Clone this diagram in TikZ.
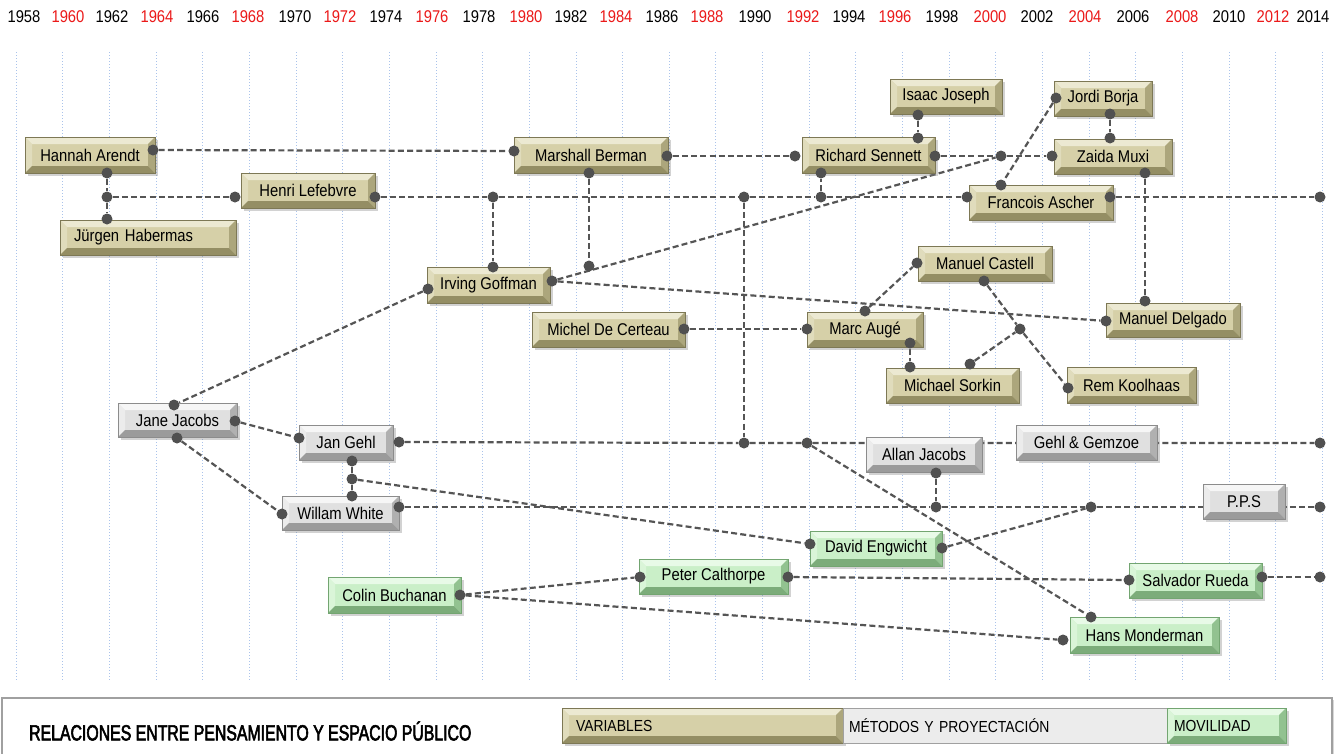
\documentclass[tikz,border=0pt]{standalone}
\usepackage{fontspec}
\setmainfont{Liberation Sans}[FakeStretch=0.87]
\newfontfamily\titlefont{Liberation Sans}[FakeStretch=0.72, FakeBold=2.5]
\usetikzlibrary{shadows}
\pgfdeclarelayer{gridl}\pgfdeclarelayer{linel}\pgfdeclarelayer{dotl}
\pgfsetlayers{gridl,linel,main,dotl}
\definecolor{varface}{RGB}{214,208,168}
\definecolor{vartop}{RGB}{236,233,210}
\definecolor{varleft}{RGB}{224,220,188}
\definecolor{varright}{RGB}{172,166,124}
\definecolor{varbot}{RGB}{148,142,100}
\definecolor{varborder}{RGB}{125,120,85}
\definecolor{metface}{RGB}{224,224,224}
\definecolor{mettop}{RGB}{246,246,246}
\definecolor{metleft}{RGB}{236,236,236}
\definecolor{metright}{RGB}{176,176,176}
\definecolor{metbot}{RGB}{155,155,155}
\definecolor{metborder}{RGB}{140,140,140}
\definecolor{movface}{RGB}{202,239,200}
\definecolor{movtop}{RGB}{232,250,231}
\definecolor{movleft}{RGB}{218,245,216}
\definecolor{movright}{RGB}{146,194,144}
\definecolor{movbot}{RGB}{124,172,122}
\definecolor{movborder}{RGB}{115,165,113}
\definecolor{dotc}{RGB}{80,80,80}
\definecolor{linec}{RGB}{85,85,85}
\definecolor{gridc}{RGB}{170,195,235}
\definecolor{yred}{RGB}{235,25,25}
\definecolor{legborder}{RGB}{160,160,160}
\definecolor{legmet}{RGB}{236,236,236}
\tikzset{
  bevel/.style n args={4}{path picture={
    \path (path picture bounding box.north west) coordinate (pNW)
          (path picture bounding box.north east) coordinate (pNE)
          (path picture bounding box.south west) coordinate (pSW)
          (path picture bounding box.south east) coordinate (pSE);
    \fill[#1] (pNW) -- (pNE) -- ([shift={(-7pt,-7pt)}]pNE) -- ([shift={(7pt,-7pt)}]pNW) -- cycle;
    \fill[#2] (pNW) -- ([shift={(7pt,-7pt)}]pNW) -- ([shift={(7pt,7pt)}]pSW) -- (pSW) -- cycle;
    \fill[#3] (pNE) -- (pSE) -- ([shift={(-7pt,7pt)}]pSE) -- ([shift={(-7pt,-7pt)}]pNE) -- cycle;
    \fill[#4] (pSW) -- ([shift={(7pt,7pt)}]pSW) -- ([shift={(-7pt,7pt)}]pSE) -- (pSE) -- cycle;
  }},
  boxbase/.style={rectangle, inner sep=0pt, line width=0.6pt,
    font=\fontsize{17}{20}\selectfont, text=black,
    drop shadow={opacity=0.35, shadow xshift=3pt, shadow yshift=-3pt}},
  var/.style={boxbase, fill=varface, draw=varborder, bevel={vartop}{varleft}{varright}{varbot}},
  met/.style={boxbase, fill=metface, draw=metborder, bevel={mettop}{metleft}{metright}{metbot}},
  mov/.style={boxbase, fill=movface, draw=movborder, bevel={movtop}{movleft}{movright}{movbot}},
  dot/.style={circle, fill=dotc, inner sep=0pt, minimum size=11pt},
  conn/.style={draw=linec, line width=2.2pt, dash pattern=on 6pt off 3.2pt},
  yearlbl/.style={font=\fontsize{17}{20}\selectfont, inner sep=0pt}
}
\begin{document}
\begin{tikzpicture}[x=1pt,y=-1pt]
\useasboundingbox (0,0) rectangle (1336,753);
% grid
\begin{pgfonlayer}{gridl}
\fill[white] (0,0) rectangle (1336,753);
\foreach \k in {0,...,28}{
  \draw[gridc, line width=0.6pt, dash pattern=on 0.8pt off 2.2pt] ({16+46.65*\k},52) -- ({16+46.65*\k},680);
}
\end{pgfonlayer}
% years
\foreach \yr/\xx/\cc in {1958/24/black,1960/68/yred,1962/112/black,1964/157/yred,
  1966/203/black,1968/248/yred,1970/295/black,1972/340/yred,1974/386/black,
  1976/432/yred,1978/479/black,1980/526/yred,1982/571/black,1984/616/yred,
  1986/662/black,1988/707/yred,1990/755/black,1992/803/yred,1994/849/black,
  1996/895/yred,1998/942/black,2000/990/yred,2002/1037/black,2004/1085/yred,
  2006/1133/black,2008/1182/yred,2010/1229/black,2012/1273/yred,2014/1313/black}{
  \node[yearlbl, text=\cc] (y\yr) at (\xx,17) {\yr};
}
% VARIABLES boxes
\node[var, minimum width=130pt, minimum height=36pt] (ha) at (90,155) {Hannah Arendt};
\node[var, minimum width=176pt, minimum height=35pt, text width=148pt, inner xsep=14pt, align=left] (jh) at (148,237.5) {Jürgen Habermas};
\node[var, minimum width=134pt, minimum height=35pt] (hl) at (308,190.5) {Henri Lefebvre};
\node[var, minimum width=154pt, minimum height=36pt] (mb) at (591,155) {Marshall Berman};
\node[var, minimum width=133pt, minimum height=36pt] (rs) at (868.5,155) {Richard Sennett};
\node[var, minimum width=112pt, minimum height=35pt] (ij) at (946,96.5) {Isaac Joseph};
\node[var, minimum width=98pt, minimum height=35pt] (jb) at (1103,98.5) {Jordi Borja};
\node[var, minimum width=118pt, minimum height=35pt] (zm) at (1113,156.5) {Zaida Muxi};
\node[var, minimum width=144pt, minimum height=35pt] (fa) at (1041,202.5) {Francois Ascher};
\node[var, minimum width=123pt, minimum height=36pt] (ig) at (488.5,285) {Irving Goffman};
\node[var, minimum width=134pt, minimum height=35pt] (mc) at (985,263.5) {Manuel Castell};
\node[var, minimum width=153pt, minimum height=35pt] (mdc) at (608.5,329.5) {Michel De Certeau};
\node[var, minimum width=116pt, minimum height=35pt] (ma) at (865,329.5) {Marc Augé};
\node[var, minimum width=133pt, minimum height=35pt] (ms) at (952.5,385.5) {Michael Sorkin};
\node[var, minimum width=134pt, minimum height=34pt] (md) at (1173,320) {Manuel Delgado};
\node[var, minimum width=129pt, minimum height=36pt] (rk) at (1131.5,385) {Rem Koolhaas};
% METODOS boxes
\node[met, minimum width=119pt, minimum height=34pt] (jj) at (177.5,420) {Jane Jacobs};
\node[met, minimum width=94pt, minimum height=35pt] (jg) at (346,442.5) {Jan Gehl};
\node[met, minimum width=117pt, minimum height=34pt] (ww) at (340.5,513) {Willam White};
\node[met, minimum width=116pt, minimum height=35pt] (aj) at (924,454.5) {Allan Jacobs};
\node[met, minimum width=141pt, minimum height=35pt] (gg) at (1086.5,442.5) {Gehl \& Gemzoe};
\node[met, minimum width=82pt, minimum height=35pt] (pps) at (1244,501.5) {P.P.S};
% MOVILIDAD boxes
\node[mov, minimum width=132pt, minimum height=35pt] (de) at (876,548.5) {David Engwicht};
\node[mov, minimum width=149pt, minimum height=35pt] (pc) at (713.5,576.5) {Peter Calthorpe};
\node[mov, minimum width=133pt, minimum height=36pt] (cb) at (394.5,595) {Colin Buchanan};
\node[mov, minimum width=133pt, minimum height=35pt] (sr) at (1195.5,580.5) {Salvador Rueda};
\node[mov, minimum width=149pt, minimum height=36pt] (hm) at (1144.5,635) {Hans Monderman};
% dots
\begin{pgfonlayer}{dotl}
\foreach \nm/\xx/\yy in {haR/153/150, mbL/514/151, mbR/667/156, rsL/795/156,
  rsR/935/156, jA/1001/156, zmL/1052/156, ijB/918/115, rsT/918/138,
  jbB/1110/114, zmT/1110/138, jbL/1056/98, faT/1001/185, zmB/1145/173, mdT/1145/301,
  haB/107/173, jB/107/197, jhT/107/219, hlL/235/197, hlR/375/197,
  jC/493/197, igT/493/267, jD/744/197, jE/821/197, rsB/821/173,
  faL/967/197, faR/1110/197, eA/1320/197, mbB/589/173, jF/589/266,
  igR/552/281, mdL/1106/321, igL/428/289, jjT/174/405,
  mdcR/684/329, maL/807/329, maT/865/311, mcL/917/263,
  maB/910/343, msT/910/367, msR/970/364, jG/1020/329, mcB/984/281, rkL/1068/388,
  jjR/235/421, jgL/299/438, jjB/177/438, wwL/282/514,
  jgB/352/461, jH/352/479, wwT/352/496, deL/810/544,
  jgR/399/442, jI/744/443, jJ/807/443, eB/1320/443, hmT/1091/617,
  ajB/936/473, jK/936/507, wwR/399/507, jL/1091/507, eC/1320/507, deR/942/548,
  cbR/460/595, pcL/640/577, hmL/1063/640, pcR/788/577, srL/1129/580, srR/1262/577, eD/1320/577}{
  \node[dot] (\nm) at (\xx,\yy) {};
}
\end{pgfonlayer}
% connectors
\begin{pgfonlayer}{linel}
\draw[conn] (haR) -- (mbL);
\draw[conn] (mbR) -- (rsL);
\draw[conn] (rsR) -- (jA) -- (zmL);
\draw[conn] (igR) -- (jA);
\draw[conn] (ijB) -- (rsT);
\draw[conn] (jbB) -- (zmT);
\draw[conn] (jbL) -- (faT);
\draw[conn] (zmB) -- (mdT);
\draw[conn] (haB) -- (jB) -- (jhT);
\draw[conn] (jB) -- (hlL);
\draw[conn] (hlR) -- (jC) -- (jD) -- (jE) -- (faL);
\draw[conn] (faR) -- (eA);
\draw[conn] (jC) -- (igT);
\draw[conn] (jD) -- (jI);
\draw[conn] (jE) -- (rsB);
\draw[conn] (mbB) -- (jF);
\draw[conn] (igR) -- (mdL);
\draw[conn] (igL) -- (jjT);
\draw[conn] (mdcR) -- (maL);
\draw[conn] (maT) -- (mcL);
\draw[conn] (maB) -- (msT);
\draw[conn] (msR) -- (jG);
\draw[conn] (mcB) -- (jG) -- (rkL);
\draw[conn] (jjR) -- (jgL);
\draw[conn] (jjB) -- (wwL);
\draw[conn] (jgB) -- (jH) -- (wwT);
\draw[conn] (jH) -- (deL);
\draw[conn] (jgR) -- (jI) -- (jJ) -- (eB);
\draw[conn] (jJ) -- (hmT);
\draw[conn] (ajB) -- (jK);
\draw[conn] (wwR) -- (jK) -- (jL) -- (eC);
\draw[conn] (deR) -- (jL);
\draw[conn] (cbR) -- (pcL);
\draw[conn] (cbR) -- (hmL);
\draw[conn] (pcR) -- (srL);
\draw[conn] (srR) -- (eD);
\end{pgfonlayer}
% legend
\node[draw=legborder, line width=1.2pt, fill=white, minimum width=1330pt, minimum height=64pt, inner sep=0pt,
  drop shadow={opacity=0.3, shadow xshift=2pt, shadow yshift=-2pt}] (legend) at (667,730) {};
\node[font=\titlefont\fontsize{22}{26}\selectfont, anchor=west, inner sep=0pt] (title) at (29,731) {RELACIONES ENTRE PENSAMIENTO Y ESPACIO PÚBLICO};
\node[var, minimum width=281pt, minimum height=35pt, text width=253pt, inner xsep=14pt, align=left, font=\fontsize{16}{19}\selectfont] (lvar) at (702.5,725.5) {VARIABLES};
\node[rectangle, fill=legmet, draw=legborder, line width=0.5pt, minimum width=324pt, minimum height=35pt, text width=312pt, inner xsep=6pt, align=left, font=\fontsize{16}{19}\selectfont] (lmet) at (1005,725.5) {MÉTODOS Y PROYECTACIÓN};
\node[mov, minimum width=119pt, minimum height=35pt, text width=105pt, inner xsep=7pt, align=left, font=\fontsize{16}{19}\selectfont] (lmov) at (1226.5,725.5) {MOVILIDAD};
\end{tikzpicture}
\end{document}
